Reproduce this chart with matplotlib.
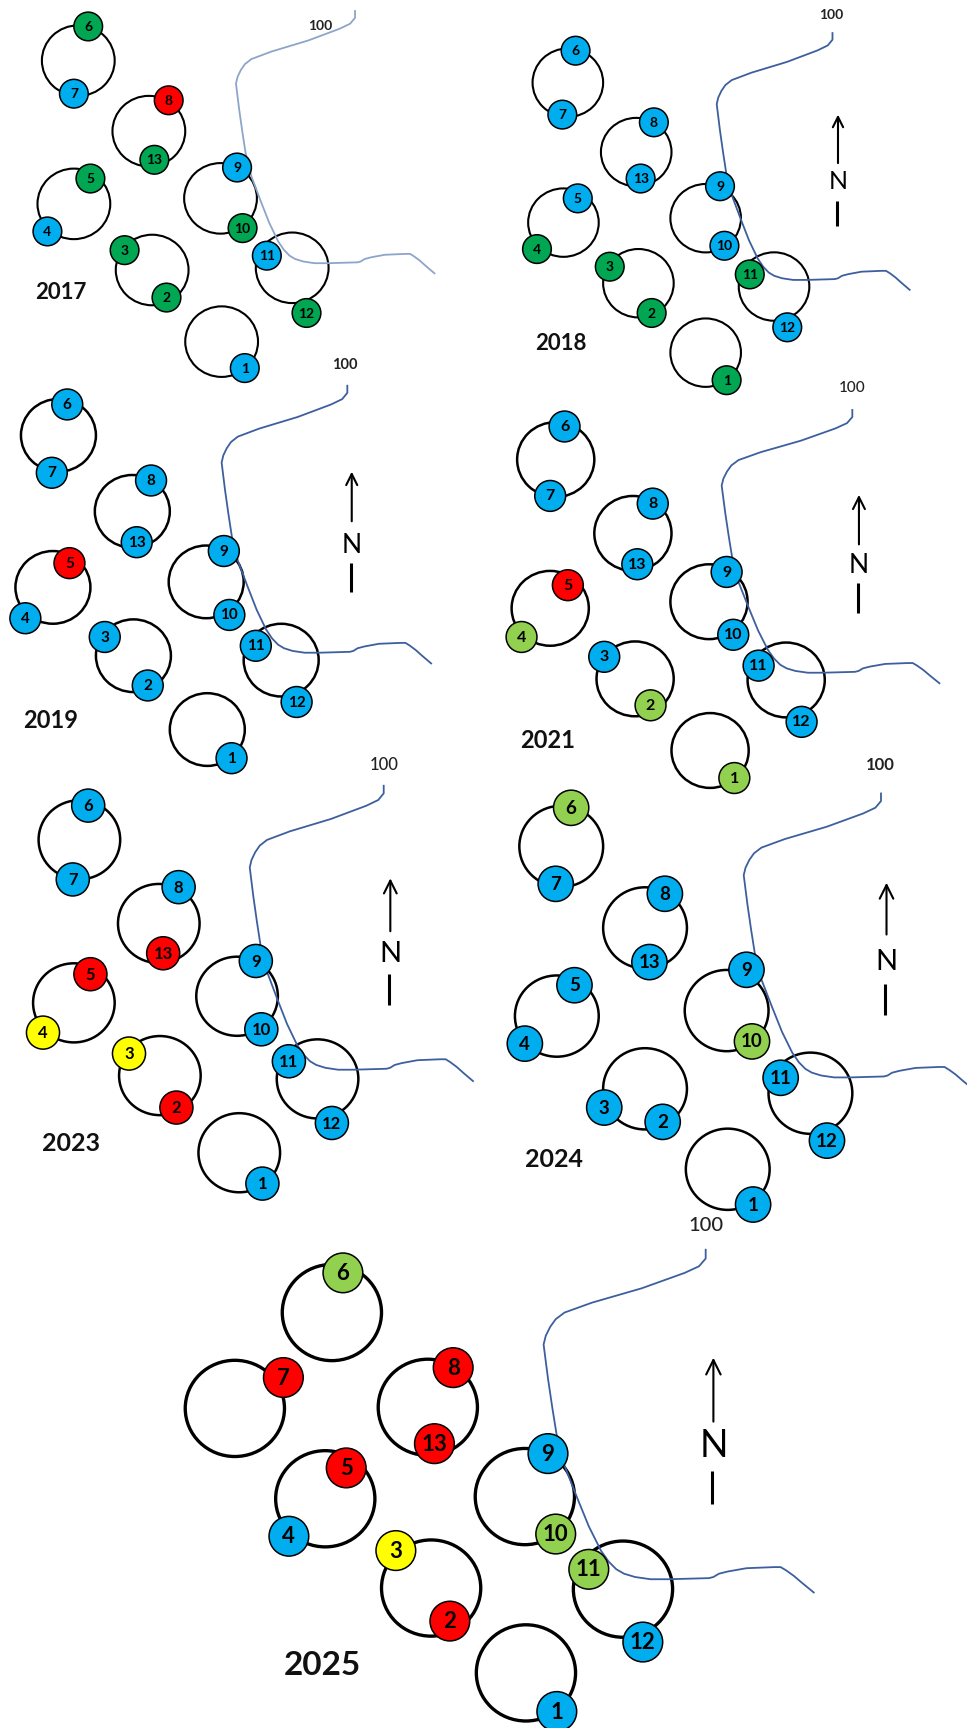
from matplotlib import pyplot as plt
from matplotlib.patches import Ellipse, Circle
import numpy as np

plt.rcParams['font.family'] = ['Lato', 'DejaVu Sans']

B = '#00aeef'
G = '#00a651'
R = '#ff0000'
Y = '#ffff00'
L = '#92d050'

years = ['2017', '2018', '2019', '2021', '2023', '2024', '2025']
nodes = [1, 2, 3, 4, 5, 6, 7, 8, 9, 10, 11, 12, 13]

# status colour of nodes 1..13
col_2017 = [B, G, G, B, G, G, B, R, B, G, B, G, G]
col_2018 = [G, G, G, G, B, B, B, B, B, B, G, B, B]
col_2019 = [B, B, B, B, R, B, B, B, B, B, B, B, B]
col_2021 = [L, L, B, L, R, B, B, B, B, B, B, B, B]
col_2023 = [B, R, Y, Y, R, B, B, B, B, B, B, B, R]
col_2024 = [B, B, B, B, B, L, B, B, B, L, B, B, B]
col_2025 = [B, R, Y, B, R, L, R, R, B, L, L, B, R]

# node positions in reference pixels (877 wide frame)
x_2017 = [222, 151, 113, 43, 82, 80, 67, 153, 215, 220, 242, 278, 140]
y_2017 = [334, 270, 227, 210, 162, 24, 85, 91, 152, 207, 232, 284, 145]
x_2018 = [659, 591, 553, 487, 524, 522, 510, 593, 653, 657, 680, 714, 581]
y_2018 = [345, 284, 242, 226, 180, 46, 104, 111, 169, 223, 249, 297, 162]
x_2019 = [210, 134, 95, 23, 63, 61, 47, 137, 203, 208, 232, 269, 124]
y_2019 = [688, 622, 578, 561, 511, 367, 429, 436, 500, 558, 586, 637, 492]
x_2021 = [666, 590, 548, 473, 515, 512, 499, 592, 659, 665, 688, 727, 578]
y_2021 = [706, 640, 596, 578, 531, 387, 450, 457, 519, 576, 604, 655, 512]
x_2023 = [238, 160, 117, 39, 82, 80, 66, 162, 232, 237, 262, 301, 148]
y_2023 = [1074, 1005, 956, 937, 884, 731, 798, 805, 872, 934, 963, 1019, 865]
x_2024 = [683, 601, 548, 476, 521, 518, 504, 603, 677, 682, 708, 750, 589]
y_2024 = [1093, 1018, 1005, 947, 894, 733, 802, 811, 880, 945, 978, 1035, 873]
x_2025 = [505, 408, 359, 262, 314, 311, 257, 411, 497, 504, 534, 583, 394]
y_2025 = [1553, 1471, 1407, 1394, 1332, 1155, 1250, 1241, 1319, 1392, 1424, 1490, 1310]

# ring centres
rx_2017 = [71, 135, 67, 200, 138, 265, 201]
ry_2017 = [55, 119, 185, 180, 245, 243, 310]
rx_2018 = [515, 577, 511, 640, 579, 702, 640]
ry_2018 = [75, 138, 202, 198, 257, 260, 320]
rx_2019 = [53, 120, 48, 187, 121, 255, 188]
ry_2019 = [395, 464, 533, 528, 595, 599, 662]
rx_2021 = [504, 574, 499, 643, 576, 713, 644]
ry_2021 = [417, 484, 552, 546, 616, 617, 681]
rx_2023 = [72, 144, 67, 215, 145, 288, 217]
ry_2023 = [762, 838, 910, 904, 976, 979, 1046]
rx_2024 = [509, 585, 505, 659, 585, 735, 660]
ry_2024 = [768, 842, 922, 917, 988, 992, 1061]
rx_2025 = [301, 213, 388, 295, 476, 391, 565, 477]
ry_2025 = [1191, 1278, 1277, 1360, 1358, 1441, 1442, 1518]

ring_r = [33, 32, 34, 35, 37, 38, 45]
node_r = [13, 13, 14, 14, 15, 16, 18]
node_fs = [10, 10, 11, 11.5, 12, 13.5, 16]
year_fs = [16, 16, 17, 17, 18, 18, 24]
year_x = [55, 509, 46, 497, 64, 502, 292]
year_y = [265, 312, 654, 672, 1038, 1052, 1511]

label_x = [290, 754, 313, 773, 348, 798, 640]
label_y = [24, 14, 331, 352, 694, 694, 1112]
label_fs = [10, 10, 10.5, 11, 12, 12, 14.5]

# river trace, from the 2025 panel
river_x = [640, 640, 634, 621, 582, 537, 512, 504, 499, 495, 493, 497, 501, 505, 512,
           523, 534, 545, 552, 559, 566, 576, 590, 607, 643, 647, 652, 660, 677, 702,
           708, 713, 720, 727, 738]
river_y = [1134, 1142, 1149, 1155, 1169, 1182, 1191, 1197, 1204, 1212, 1220, 1251, 1278,
           1303, 1330, 1358, 1385, 1407, 1417, 1424, 1428, 1431, 1433, 1433, 1432, 1431,
           1428, 1426, 1423, 1422, 1422, 1425, 1430, 1436, 1445]
top_x = [322, 755, 315, 773, 348, 799, 640]
top_y = [10, 30, 350, 372, 713, 720, 1134]
end_x = [394, 825, 391, 852, 429, 882, 738]
end_y = [248, 263, 602, 620, 981, 988, 1445]
river_col = ['#8ea5c9', '#3d5f9e', '#3d5f9e', '#3d5f9e', '#3d5f9e', '#3d5f9e', '#3d5f9e']

# north arrow: x, arrow tail, arrow head, letter, bar top, bar bottom (no arrow in 2017)
north_x = [None, 760, 319, 779, 354, 804, 647]
north_tail = [None, 148, 473, 494, 845, 848, 1290]
north_head = [None, 104, 428, 449, 797, 801, 1232]
north_n = [None, 165, 495, 513, 866, 873, 1312]
bar_top = [None, 182, 511, 529, 884, 893, 1335]
bar_bot = [None, 205, 537, 556, 912, 921, 1365]
north_fs = [None, 18, 19, 19, 21, 21, 27]

all_col = [col_2017, col_2018, col_2019, col_2021, col_2023, col_2024, col_2025]
all_x = [x_2017, x_2018, x_2019, x_2021, x_2023, x_2024, x_2025]
all_y = [y_2017, y_2018, y_2019, y_2021, y_2023, y_2024, y_2025]
all_rx = [rx_2017, rx_2018, rx_2019, rx_2021, rx_2023, rx_2024, rx_2025]
all_ry = [ry_2017, ry_2018, ry_2019, ry_2021, ry_2023, ry_2024, ry_2025]

fig = plt.figure(figsize=(9.67, 17.28), dpi=100)
ax = fig.add_axes([0, 0, 1, 1])
ax.set_xlim(0, 877)
ax.set_ylim(1568, 0)
ax.axis('off')

for i, year in enumerate(years):
    lw = 1.5 if i < 2 else (1.8 if i < 6 else 2.4)
    for cx, cy in zip(all_rx[i], all_ry[i]):
        ax.add_patch(Ellipse((cx, cy), 2 * ring_r[i], 2 * ring_r[i] * 0.97, fill=False,
                             ec='black', lw=lw, zorder=1))

    sx = (end_x[i] - top_x[i]) / (river_x[-1] - river_x[0])
    sy = (end_y[i] - top_y[i]) / (river_y[-1] - river_y[0])
    rvx = top_x[i] + (np.array(river_x) - river_x[0]) * sx
    rvy = top_y[i] + (np.array(river_y) - river_y[0]) * sy
    ax.plot(rvx, rvy, color=river_col[i], lw=1.3, zorder=2, solid_joinstyle='round')

    for n, nx, ny, c in zip(nodes, all_x[i], all_y[i], all_col[i]):
        ax.add_patch(Circle((nx, ny), node_r[i], fc=c, ec='black', lw=1.1, zorder=3))
        ax.text(nx, ny + 0.5, str(n), ha='center', va='center', fontsize=node_fs[i],
                color='black', fontweight='bold', zorder=4)

    ax.text(year_x[i], year_y[i], year, ha='center', va='center', fontsize=year_fs[i],
            fontweight='bold', color='#111111')
    ax.text(label_x[i], label_y[i], '100', ha='center', va='center', fontsize=label_fs[i],
            color='#222222', fontweight='bold' if i in (0, 1, 2, 5) else 'medium')

    if north_x[i] is not None:
        ax.annotate('', xy=(north_x[i], north_head[i]), xytext=(north_x[i], north_tail[i]),
                    arrowprops=dict(arrowstyle='->', color='black', lw=1.5,
                                    mutation_scale=17 + i * 1.5, shrinkA=0, shrinkB=0))
        ax.text(north_x[i], north_n[i], 'N', ha='center', va='center',
                fontsize=north_fs[i], color='black')
        ax.plot([north_x[i] - 1, north_x[i] - 1], [bar_top[i], bar_bot[i]], color='black',
                lw=2.2, solid_capstyle='butt')

fig.savefig('out.png', dpi=100)
